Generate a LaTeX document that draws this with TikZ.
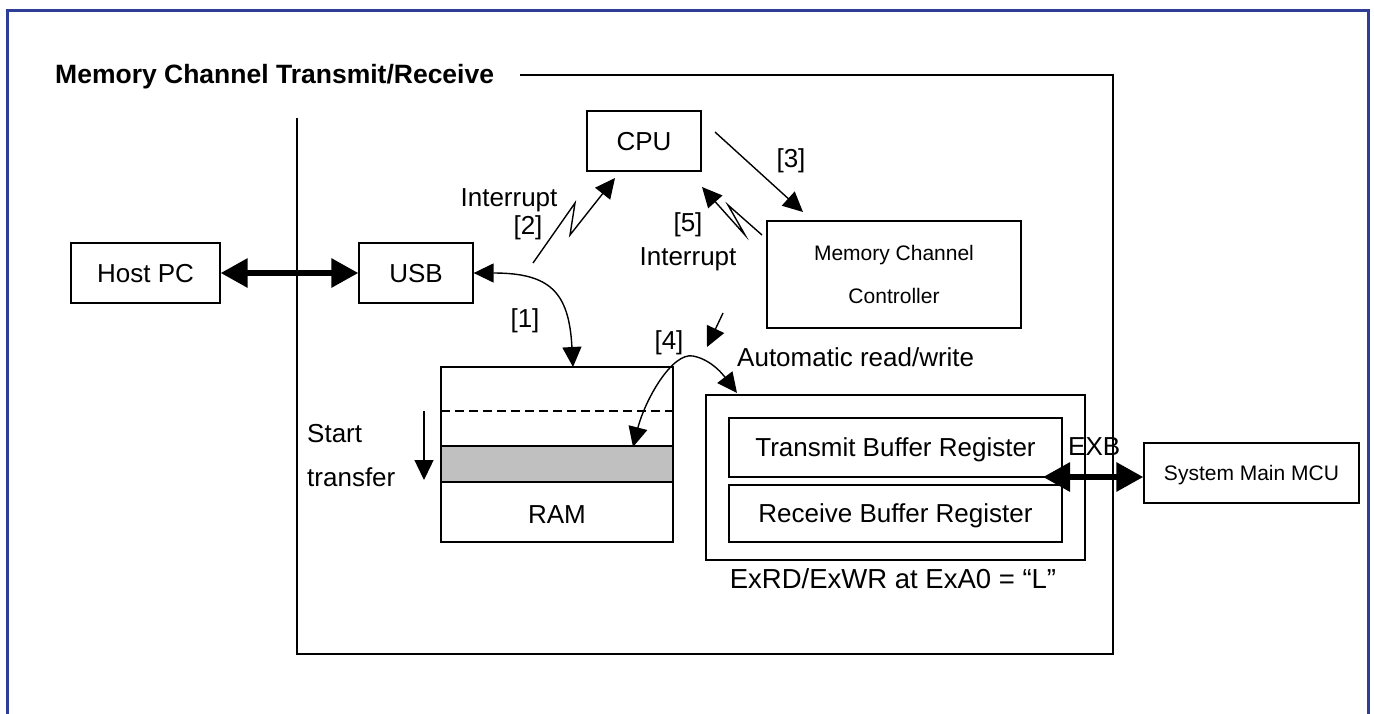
\documentclass[tikz,border=0pt]{standalone}
\usepackage{fontspec}
\setmainfont{Liberation Sans}
\usetikzlibrary{arrows.meta}
\definecolor{frameblue}{RGB}{46,61,150}
\definecolor{bandgrey}{RGB}{192,192,192}
\begin{document}
\begin{tikzpicture}[x=1pt,y=-1pt,
  box/.style={draw,line width=1.3pt,inner sep=0pt,text depth=0pt,font=\fontsize{26}{31}\selectfont},
  smallbox/.style={box,font=\fontsize{21}{43}\selectfont,align=center},
  lbl/.style={inner sep=0pt,font=\fontsize{26}{31}\selectfont},
  thinarrow/.style={line width=1.4pt,-{Triangle[length=20pt,width=19pt]}},
  thinboth/.style={line width=1.4pt,{Triangle[length=20pt,width=19pt]}-{Triangle[length=20pt,width=19pt]}},
  thickboth/.style={line width=6pt,{Triangle[length=27pt,width=28pt]}-{Triangle[length=27pt,width=28pt]}},
  frameline/.style={line width=1.6pt}
]
\useasboundingbox (0,0) rectangle (1374,713);
% outer blue frame (open at the bottom)
\draw[frameblue,line width=3pt] (7,725) -- (7,10) -- (1368,10) -- (1368,725);

% title and inner frame
\node[lbl,anchor=base west,font=\bfseries\fontsize{26.5}{31}\selectfont] (title) at (55,83) {Memory Channel Transmit/Receive};
\draw[frameline] (520,75) -- (1113,75) -- (1113,654) -- (297,654) -- (297,118);

% boxes
\node[box,minimum width=149pt,minimum height=60pt] (hostpc) at (145.5,273) {Host PC};
\node[box,minimum width=114pt,minimum height=60pt] (usb) at (416,273) {USB};
\node[box,minimum width=114pt,minimum height=60pt] (cpu) at (644,141) {CPU};
\node[smallbox,minimum width=254pt,minimum height=107pt] (mcc) at (894,274.5) {Memory Channel\\Controller};

% RAM
\node[box,fill=bandgrey,minimum width=232pt,minimum height=36pt] (band) at (557,464) {};
\node[box,minimum width=232pt,minimum height=175pt] (ram) at (557,454.5) {};
\draw[line width=1.3pt,dash pattern=on 9pt off 5pt] (441,411) -- (673,411);
\node[lbl] (ramlbl) at (557,515) {RAM};

% buffer registers
\node[box,minimum width=379pt,minimum height=165pt] (bufouter) at (895.5,477.5) {};
\node[box,minimum width=333pt,minimum height=59pt] (txbuf) at (895.5,447.5) {Transmit Buffer Register};
\node[box,minimum width=333pt,minimum height=57pt] (rxbuf) at (895.5,513.5) {Receive Buffer Register};
\node[smallbox,minimum width=215pt,minimum height=60pt] (mcu) at (1251.5,473) {System Main MCU};

% labels
\node[lbl,anchor=base] (int2) at (509,206) {Interrupt};
\node[lbl,anchor=base] (n2) at (528,234.5) {[2]};
\node[lbl,anchor=base] (n3) at (791,167.5) {[3]};
\node[lbl,anchor=base] (n5) at (688,231.5) {[5]};
\node[lbl,anchor=base] (int5) at (688,265) {Interrupt};
\node[lbl,anchor=base] (n1) at (525,327.5) {[1]};
\node[lbl,anchor=base] (n4) at (669,349.5) {[4]};
\node[lbl,anchor=base west] (auto) at (737,366) {Automatic read/write};
\node[lbl,anchor=base west] (start) at (307,442) {Start};
\node[lbl,anchor=base west] (transfer) at (307,486) {transfer};
\node[lbl,anchor=base west] (exb) at (1068,455) {EXB};
\node[lbl,anchor=base,font=\fontsize{27.5}{31}\selectfont] (exrd) at (893,588) {ExRD/ExWR at ExA0 = “L”};

% coordinates
\coordinate (z2a) at (533,263);
\coordinate (z2b) at (575,203);
\coordinate (z2c) at (570,235);
\coordinate (z2d) at (615,178);
\coordinate (z5a) at (762,235);
\coordinate (z5b) at (728,205);
\coordinate (z5c) at (745,235);
\coordinate (z5d) at (702,187);
\coordinate (c3s) at (715,132);
\coordinate (c3e) at (803,212);
\coordinate (sms) at (723,313);
\coordinate (sme) at (707,347);
\coordinate (ramtop) at (573,367);
\coordinate (bandpt) at (633,447);
\coordinate (peak) at (693,356);
\coordinate (bufpt) at (737,393);
\coordinate (sts) at (424,411);
\coordinate (ste) at (424,480);
\coordinate (exbL) at (1043,477);

% connectors
\draw[thickboth] (hostpc.east) -- (usb.west);
\draw[thickboth] (exbL) -- (exbL -| mcu.west);
\draw[thinboth] (usb.east) .. controls (550,273) and (569,292) .. (ramtop);
\draw[thinarrow] (z2a) -- (z2b) -- (z2c) -- (z2d);
\draw[thinarrow] (z5a) -- (z5b) -- (z5c) -- (z5d);
\draw[thinarrow] (c3s) -- (c3e);
\draw[thinarrow] (sms) -- (sme);
\draw[thinboth] (bandpt) .. controls (645,400) and (672,352) .. (peak) .. controls (714,360) and (727,380) .. (bufpt);
\draw[thinarrow] (sts) -- (ste);
\end{tikzpicture}
\end{document}
